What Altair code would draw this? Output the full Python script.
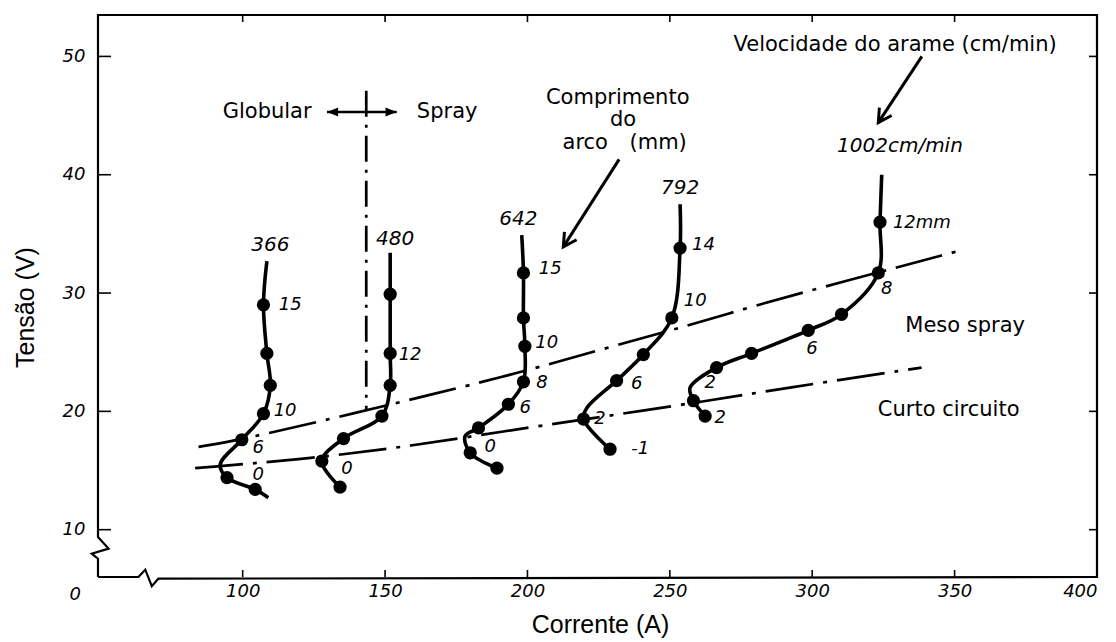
import altair as alt
import pandas as pd

# ---------------- values ----------------
X_MIN, X_MAX = 49.2, 400.0
Y_MIN, Y_MAX = 6.0, 53.5
X_TICKS = [100, 150, 200, 250, 300, 350, 400]
Y_TICKS = [10, 20, 30, 40, 50]

# curves: wire feed speed (cm/min); points along each curve, dot flag = measured point
curve_names = ["366", "480", "642", "792", "1002"]
a_366 = [108.5, 107.3, 108.5, 109.7, 107.3, 99.7, 92.1, 94.5, 104.4, 109.0]
v_366 = [32.7, 29.0, 24.9, 22.2, 19.8, 17.6, 15.5, 14.4, 13.4, 12.7]
d_366 = [0, 1, 1, 1, 1, 1, 0, 1, 1, 0]
a_480 = [151.8, 151.8, 151.8, 151.8, 148.9, 135.4, 127.8, 134.2]
v_480 = [33.4, 29.9, 24.9, 22.2, 19.6, 17.7, 15.8, 13.6]
d_480 = [0, 1, 1, 1, 1, 1, 1, 1]
a_642 = [198.0, 198.6, 198.6, 199.1, 198.6, 193.3, 182.8, 178.1, 179.9, 189.3]
v_642 = [34.9, 31.7, 27.9, 25.5, 22.5, 20.6, 18.6, 17.9, 16.5, 15.2]
d_642 = [0, 1, 1, 1, 1, 1, 1, 0, 1, 1]
a_792 = [253.6, 253.6, 250.7, 240.7, 231.3, 220.9, 219.7, 229.0]
v_792 = [37.5, 33.8, 27.9, 24.8, 22.6, 20.3, 19.35, 16.8]
d_792 = [0, 1, 1, 1, 1, 0, 1, 1]
a_1002 = [324.4, 323.8, 323.2, 310.3, 298.6, 278.7, 266.4, 257.1, 258.3, 262.4]
v_1002 = [40.0, 36.0, 31.7, 28.2, 26.85, 24.9, 23.7, 22.0, 20.9, 19.6]
d_1002 = [0, 1, 1, 1, 1, 1, 1, 0, 1, 1]

# transition boundaries (dash-dot)
meso_a = [84.5, 99.7, 143.8, 162.4, 196.4, 226.8, 257.3, 280.7, 310.0, 352.1]
meso_v = [17.0, 17.6, 20.1, 21.2, 23.2, 25.3, 27.3, 29.0, 30.9, 33.6]
curto_a = [83.3, 123.7, 160.0, 193.9, 213.8, 266.5, 288.7, 338.4]
curto_v = [15.2, 16.0, 17.1, 18.4, 19.1, 21.0, 21.9, 23.7]
trans_a = [143.4, 143.4]
trans_v = [47.1, 20.1]

# arrows
glob_a = [129.6, 154.1]
glob_v = [45.3, 45.3]
vel_a = [338.5, 323.2]
vel_v = [50.0, 44.4]
comp_a = [232.2, 212.6]
comp_v = [41.3, 33.9]

# texts
head_txt = ["366", "480", "642", "792", "1002cm/min"]
head_a = [109.7, 153.5, 196.8, 253.6, 330.8]
head_v = [34.1, 34.6, 36.3, 38.9, 42.4]

pt_txt = ["15", "10", "6", "0", "12", "0", "15", "10", "8", "6", "0",
          "14", "10", "6", "2", "-1", "12mm", "8", "6", "2", "2"]
pt_a = [116.7, 114.9, 105.5, 105.5, 158.8, 136.6, 208.0, 206.8, 205.1, 199.2, 186.9,
        261.8, 258.9, 238.4, 225.5, 239.6, 338.5, 326.2, 299.9, 264.2, 267.7]
pt_v = [29.0, 20.0, 16.9, 14.6, 24.8, 15.1, 32.0, 25.8, 22.4, 20.3, 17.0,
        34.1, 29.3, 22.3, 19.35, 16.8, 35.9, 30.3, 25.3, 22.4, 19.4]

reg_txt = ["Velocidade do arame (cm/min)", "Globular", "Spray", "Comprimento", "do",
           "arco", "(mm)", "Meso spray", "Curto circuito"]
reg_a = [329.1, 108.6, 171.8, 231.7, 233.6, 220.3, 245.9, 353.7, 347.9]
reg_v = [51.0, 45.3, 45.3, 46.5, 44.6, 42.7, 42.7, 27.2, 20.1]

origin_txt = ["0"]
origin_a = [41.2]
origin_v = [4.5]

# axis breaks (zig-zags on the frame)
brk_left_a = [49.2, 52.9, 47.0, 49.2]
brk_left_v = [9.38, 8.40, 7.97, 7.55]
brk_bot_a = [63.4, 65.8, 68.1, 70.4]
brk_bot_v = [6.0, 6.62, 5.22, 5.86]

# ---------------- tables ----------------
rows = []
for name, As, Vs, Ds in zip(curve_names, [a_366, a_480, a_642, a_792, a_1002],
                            [v_366, v_480, v_642, v_792, v_1002],
                            [d_366, d_480, d_642, d_792, d_1002]):
    for i, (a, v, d) in enumerate(zip(As, Vs, Ds)):
        rows.append({"curve": name, "o": i, "A": a, "V": v, "dot": d})
curves = pd.DataFrame(rows)
dots = curves[curves["dot"] == 1]

def seg(name, As, Vs):
    return [{"id": name, "o": i, "A": a, "V": v} for i, (a, v) in enumerate(zip(As, Vs))]

bounds = pd.DataFrame(seg("meso", meso_a, meso_v) + seg("curto", curto_a, curto_v))
trans = pd.DataFrame(seg("t", trans_a, trans_v))
glob = pd.DataFrame(seg("g", glob_a, glob_v))
pointers = pd.DataFrame(seg("vel", vel_a, vel_v) + seg("comp", comp_a, comp_v))
heads = pointers.groupby("id").tail(1)
glob_left = pd.DataFrame({"A": [glob_a[0]], "V": [glob_v[0]]})
glob_right = pd.DataFrame({"A": [glob_a[1]], "V": [glob_v[1]]})

head_df = pd.DataFrame({"t": head_txt, "A": head_a, "V": head_v})
pt_df = pd.DataFrame({"t": pt_txt, "A": pt_a, "V": pt_v})
reg_df = pd.DataFrame({"t": reg_txt, "A": reg_a, "V": reg_v})
origin_df = pd.DataFrame({"t": origin_txt, "A": origin_a, "V": origin_v})

frame_a = [X_MIN] + brk_bot_a + [X_MAX, X_MAX, X_MIN] + brk_left_a + [X_MIN]
frame_v = [Y_MIN] + brk_bot_v + [Y_MIN, Y_MAX, Y_MAX] + brk_left_v + [Y_MIN]
frame = pd.DataFrame({"o": list(range(len(frame_a))), "A": frame_a, "V": frame_v})

xt = pd.DataFrame({"A": X_TICKS[:-1]})
yt = pd.DataFrame({"V": Y_TICKS})

# ---------------- chart ----------------
W, H = 999, 562
BLACK = "#000000"
xs = alt.Scale(domain=[X_MIN, X_MAX], nice=False, zero=False)
ys = alt.Scale(domain=[Y_MIN, Y_MAX], nice=False, zero=False)
x_axis = alt.Axis(values=X_TICKS, title="Corrente (A)", ticks=False, domain=False, grid=False,
                  labelFont="DejaVu Sans", labelFontStyle="italic", labelFontSize=18,
                  labelColor=BLACK, labelPadding=5, labelOverlap=False,
                  titleFont="Liberation Sans", titleFontSize=25, titleFontWeight="normal",
                  titleColor=BLACK, titleX=502, titleY=47, titleBaseline="middle")
y_axis = alt.Axis(values=Y_TICKS, title="Tensão (V)", ticks=False, domain=False, grid=False,
                  labelFont="DejaVu Sans", labelFontStyle="italic", labelFontSize=18,
                  labelColor=BLACK, labelPadding=13, labelOverlap=False,
                  titleFont="Liberation Sans", titleFontSize=25, titleFontWeight="normal",
                  titleColor=BLACK, titleX=-73, titleY=292, titleBaseline="middle",
                  titleAlign="center", titleAngle=-90)
X = alt.X("A:Q", scale=xs, axis=x_axis)
Y = alt.Y("V:Q", scale=ys, axis=y_axis)

frame_l = alt.Chart(frame).mark_line(color=BLACK, strokeWidth=2.2, clip=False).encode(
    x=X, y=Y, order="o:Q")
tick_l = alt.Chart(yt).mark_rule(color=BLACK, strokeWidth=1.6).encode(
    y=Y, x=alt.value(0), x2=alt.value(13))
tick_r = alt.Chart(yt).mark_rule(color=BLACK, strokeWidth=1.6).encode(
    y=Y, x=alt.value(W - 8), x2=alt.value(W))
tick_b = alt.Chart(xt).mark_rule(color=BLACK, strokeWidth=1.6).encode(
    x=X, y=alt.value(H - 7), y2=alt.value(H))
tick_t = alt.Chart(xt).mark_rule(color=BLACK, strokeWidth=1.6).encode(
    x=X, y=alt.value(0), y2=alt.value(7))

bound_l = alt.Chart(bounds).mark_line(color=BLACK, strokeWidth=2.7, strokeDash=[48, 10, 4, 10],
                                      interpolate="basis").encode(
    x=X, y=Y, detail="id:N", order="o:Q")
trans_l = alt.Chart(trans).mark_line(color=BLACK, strokeWidth=2.7, strokeDash=[26, 8, 3, 8]).encode(
    x=X, y=Y, order="o:Q")
glob_l = alt.Chart(glob).mark_line(color=BLACK, strokeWidth=2.6).encode(x=X, y=Y, order="o:Q")
arrow_left = alt.Chart(glob_left).mark_point(shape="M0,0L1,-0.4L1,0.4Z", filled=True, size=500,
                                             color=BLACK, opacity=1).encode(x=X, y=Y)
arrow_right = alt.Chart(glob_right).mark_point(shape="M0,0L-1,-0.4L-1,0.4Z", filled=True, size=500,
                                               color=BLACK, opacity=1).encode(x=X, y=Y)
ptr_l = alt.Chart(pointers).mark_line(color=BLACK, strokeWidth=3).encode(
    x=X, y=Y, detail="id:N", order="o:Q")
ptr_h = alt.Chart(heads).mark_point(shape="M-0.55,1L0,0L0.55,1", filled=False, size=700,
                                    strokeWidth=3, color=BLACK, opacity=1, angle=213).encode(x=X, y=Y)

curve_l = alt.Chart(curves).mark_line(color=BLACK, strokeWidth=3.6, interpolate="catmull-rom").encode(
    x=X, y=Y, detail="curve:N", order="o:Q")
dot_m = alt.Chart(dots).mark_circle(color=BLACK, size=175, opacity=1).encode(x=X, y=Y)

head_t = alt.Chart(head_df).mark_text(font="DejaVu Sans", fontStyle="italic", fontSize=20,
                                      color=BLACK).encode(x=X, y=Y, text="t:N")
pt_t = alt.Chart(pt_df).mark_text(font="DejaVu Sans", fontStyle="italic", fontSize=18,
                                  color=BLACK).encode(x=X, y=Y, text="t:N")
reg_t = alt.Chart(reg_df).mark_text(font="DejaVu Sans", fontSize=21, color=BLACK).encode(
    x=X, y=Y, text="t:N")
origin_t = alt.Chart(origin_df).mark_text(font="DejaVu Sans", fontStyle="italic", fontSize=18,
                                          color=BLACK).encode(x=X, y=Y, text="t:N")

chart = alt.layer(
    frame_l, tick_l, tick_r, tick_b, tick_t,
    bound_l, trans_l, glob_l, arrow_left, arrow_right, ptr_l, ptr_h,
    curve_l, dot_m, head_t, pt_t, reg_t, origin_t,
).properties(
    width=W, height=H,
    padding={"left": 90, "top": 7, "right": 10, "bottom": 64},
    autosize=alt.AutoSizeParams(type="none"),
    background="white",
).configure_view(stroke=None)

chart.save("out.html", embed_options={"renderer": "svg", "actions": False})
